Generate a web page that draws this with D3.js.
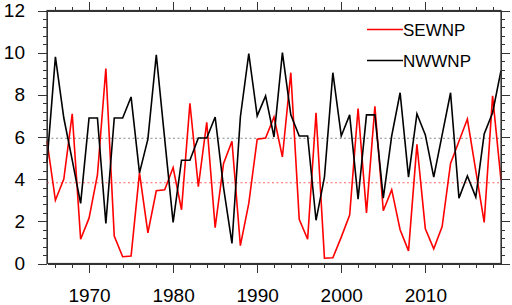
<!DOCTYPE html>
<meta charset="utf-8">
<style>
body { margin: 0; background: #fff; }
.axis text { font-family: Helvetica, Arial, "Liberation Sans", sans-serif; font-size: 19px; fill: #000; }
.axis path, .axis line { stroke: #333; shape-rendering: crispEdges; }
.legend text { font-family: Helvetica, Arial, "Liberation Sans", sans-serif; font-size: 17px; }
</style>
<div id="chart"></div>
<script src="https://d3js.org/d3.v7.min.js"></script>
<script>
var w = 512, h = 305,
    padL = 47, padR = 501, padT = 10.5, padB = 263.5;

var years = [1965, 1966, 1967, 1968, 1969, 1970, 1971, 1972, 1973, 1974,
  1975, 1976, 1977, 1978, 1979, 1980, 1981, 1982, 1983, 1984,
  1985, 1986, 1987, 1988, 1989, 1990, 1991, 1992, 1993, 1994,
  1995, 1996, 1997, 1998, 1999, 2000, 2001, 2002, 2003, 2004,
  2005, 2006, 2007, 2008, 2009, 2010, 2011, 2012, 2013, 2014,
  2015, 2016, 2017, 2018, 2019];

var sewnp = [5.8, 3.0, 4.0, 7.1, 1.15, 2.15, 4.2, 9.25, 1.3, 0.32,
  0.35, 4.3, 1.45, 3.45, 3.5, 4.55, 2.55, 7.6, 3.65, 6.7,
  1.7, 4.75, 5.8, 0.85, 2.85, 5.9, 5.95, 6.95, 5.05, 9.05,
  2.1, 1.15, 7.15, 0.25, 0.27, 1.25, 2.3, 7.35, 2.4, 7.45,
  2.5, 3.5, 1.6, 0.6, 5.65, 1.65, 0.7, 1.75, 4.75, 5.8,
  6.85, 4.4, 1.95, 7.95, 3.95];

var nwwnp = [4.8, 9.8, 6.9, 4.9, 2.85, 6.9, 6.9, 1.9, 6.9, 6.9,
  7.9, 4.3, 5.9, 9.9, 5.9, 1.95, 4.9, 4.9, 5.95, 5.95,
  6.95, 3.6, 0.95, 6.95, 9.95, 7.0, 7.95, 6.0, 10.0, 7.05,
  6.05, 6.05, 2.05, 4.1, 9.05, 6.05, 7.05, 3.05, 7.05, 7.05,
  3.1, 6.05, 8.1, 4.1, 7.1, 6.1, 4.1, 6.1, 8.1, 3.1,
  4.15, 3.15, 6.15, 7.15, 9.15];

// mean reference lines
var sewnpMean = 3.83, nwwnpMean = 5.94;

var xTicks = [1970, 1980, 1990, 2000, 2010],
    yTicks = [0, 2, 4, 6, 8, 10, 12];

var svg = d3.select("#chart").append("svg")
  .attr("width", w).attr("height", h);

var x = d3.scaleLinear().domain([1965, 2019]).range([padL, padR]),
    y = d3.scaleLinear().domain([0, 12]).range([padB, padT]);

var xMinor = d3.range(1966, 2019, 2),
    yMinor = d3.range(0, 12.01, 0.4);

function addAxis(axis, tr, vals, size, labels) {
  return svg.append("g").attr("class", "axis")
    .attr("transform", tr)
    .call(axis.tickValues(vals).tickSize(size).tickSizeOuter(0)
      .tickFormat(labels ? d3.format("d") : ""));
}

// minor ticks
addAxis(d3.axisBottom(x), "translate(0," + padB + ")", xMinor, 4, false);
addAxis(d3.axisTop(x), "translate(0," + padT + ")", xMinor, 4, false);
addAxis(d3.axisLeft(y), "translate(" + padL + ",0)", yMinor, 4, false);
addAxis(d3.axisRight(y), "translate(" + padR + ",0)", yMinor, 4, false);

// major ticks
var xb = addAxis(d3.axisBottom(x), "translate(0," + padB + ")", xTicks, 9, true);
xb.selectAll("text").attr("y", 25).attr("dy", "0.71em");
addAxis(d3.axisTop(x), "translate(0," + padT + ")", xTicks, 9, false);
var yl = addAxis(d3.axisLeft(y), "translate(" + padL + ",0)", yTicks, 9, true);
yl.selectAll("text").attr("x", -22);
addAxis(d3.axisRight(y), "translate(" + padR + ",0)", yTicks, 9, false);

// mean lines
svg.append("line")
  .attr("x1", padL).attr("x2", padR)
  .attr("y1", y(nwwnpMean)).attr("y2", y(nwwnpMean))
  .attr("stroke", "#888").attr("stroke-width", 1.2)
  .attr("stroke-dasharray", "2,2.5");
svg.append("line")
  .attr("x1", padL).attr("x2", padR)
  .attr("y1", y(sewnpMean)).attr("y2", y(sewnpMean))
  .attr("stroke", "#f66").attr("stroke-width", 1.2)
  .attr("stroke-dasharray", "2,2.5");

var line = d3.line()
  .x(function (d, i) { return x(years[i]); })
  .y(function (d) { return y(d); });

svg.append("path").datum(sewnp)
  .attr("d", line).attr("fill", "none")
  .attr("stroke", "#ff0000").attr("stroke-width", 1.6);

svg.append("path").datum(nwwnp)
  .attr("d", line).attr("fill", "none")
  .attr("stroke", "#000").attr("stroke-width", 1.6);

// frame
svg.append("rect")
  .attr("x", padL).attr("y", padT)
  .attr("width", padR - padL).attr("height", padB - padT)
  .attr("fill", "none").attr("stroke", "#333").attr("stroke-width", 1.2);

// legend
var legendItems = [{ name: "SEWNP", color: "#ff0000" }, { name: "NWWNP", color: "#000" }];
var lg = svg.append("g").attr("class", "legend");
legendItems.forEach(function (d, i) {
  var ly = 29.5 + i * 31;
  lg.append("line")
    .attr("x1", 367).attr("x2", 403)
    .attr("y1", ly).attr("y2", ly)
    .attr("stroke", d.color).attr("stroke-width", 1.6);
  lg.append("text")
    .attr("x", 403).attr("y", ly + 6.5)
    .text(d.name);
});
</script>
